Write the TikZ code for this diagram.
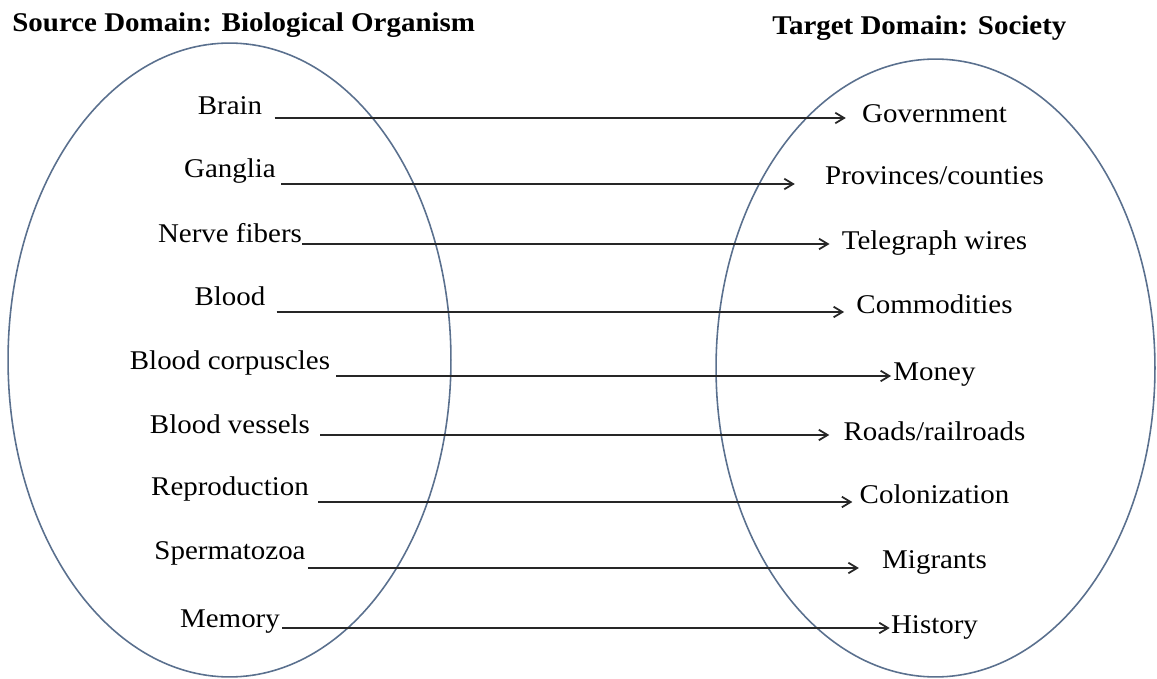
\documentclass[tikz,border=0pt]{standalone}
\usepackage{fontspec}
\setmainfont{Liberation Serif}[FakeStretch=1.07]
\usetikzlibrary{arrows.meta,calc}
\definecolor{setblue}{RGB}{90,112,142}
\newcommand{\maplabelfont}{\fontsize{15.4}{18}\selectfont}

\begin{document}
\begin{tikzpicture}[
  x=0.02cm, y=-0.02cm,
  item/.style={inner sep=0pt,anchor=base,font=\maplabelfont},
  heading/.style={inner sep=0pt,anchor=base west,font=\maplabelfont\bfseries},
  domainset/.style={draw=setblue,line width=0.9pt},
  map/.style={-{Straight Barb[length=5pt,width=6pt,line width=1pt]},line width=1.1pt,black!85}
  ]
  \useasboundingbox (0,0) rectangle (1157,679);

  % Domini
  \draw[domainset] (229.5,360) ellipse [x radius=4.43cm,y radius=6.34cm];
  \draw[domainset] (935.5,368) ellipse [x radius=4.39cm,y radius=6.18cm];

  % Titoli
  \node[heading] (srctitle) at (12,32) {Source Domain: Biological Organism};
  \node[heading] (tgttitle) at (772,35) {Target Domain: Society};

  % Organismo
  \node[item] (brain) at (230,115) {Brain};
  \node[item] (ganglia) at (230,177) {Ganglia};
  \node[item] (nerve) at (230,242) {Nerve fibers};
  \node[item] (blood) at (230,305) {Blood};
  \node[item] (corpuscles) at (230,369) {Blood corpuscles};
  \node[item] (vessels) at (230,433) {Blood vessels};
  \node[item] (reproduction) at (230,495) {Reproduction};
  \node[item] (sperm) at (230,559) {Spermatozoa};
  \node[item] (memory) at (230,627) {Memory};

  % Societa
  \node[item] (govt) at (934.5,123) {Government};
  \node[item] (provinces) at (934.5,185) {Provinces/counties};
  \node[item] (telegraph) at (934.5,249) {Telegraph wires};
  \node[item] (commodities) at (934.5,313) {Commodities};
  \node[item] (money) at (934.5,380) {Money};
  \node[item] (roads) at (934.5,440) {Roads/railroads};
  \node[item] (colonization) at (934.5,503) {Colonization};
  \node[item] (migrants) at (934.5,568) {Migrants};
  \node[item] (history) at (934.5,633) {History};

  % Mappature
  \draw[map] ($(brain.base east)+(12,3)$) -- ($(govt.west |- brain.base east)+(-16,3)$);
  \draw[map] ($(ganglia.base east)+(5,7)$) -- ($(provinces.west |- ganglia.base east)+(-30,7)$);
  \draw[map] ($(nerve.base east)+(0,2)$) -- ($(telegraph.west |- nerve.base east)+(-12,2)$);
  \draw[map] ($(blood.base east)+(11,7)$) -- ($(commodities.west |- blood.base east)+(-12,7)$);
  \draw[map] ($(corpuscles.base east)+(6,7)$) -- ($(money.west |- corpuscles.base east)+(-2,7)$);
  \draw[map] ($(vessels.base east)+(10,2)$) -- ($(roads.west |- vessels.base east)+(-14,2)$);
  \draw[map] ($(reproduction.base east)+(9,7)$) -- ($(colonization.west |- reproduction.base east)+(-7,7)$);
  \draw[map] ($(sperm.base east)+(2,9)$) -- ($(migrants.west |- sperm.base east)+(-23,9)$);
  \draw[map] ($(memory.base east)+(2,1)$) -- ($(history.west |- memory.base east)+(-1,1)$);
\end{tikzpicture}
\end{document}
